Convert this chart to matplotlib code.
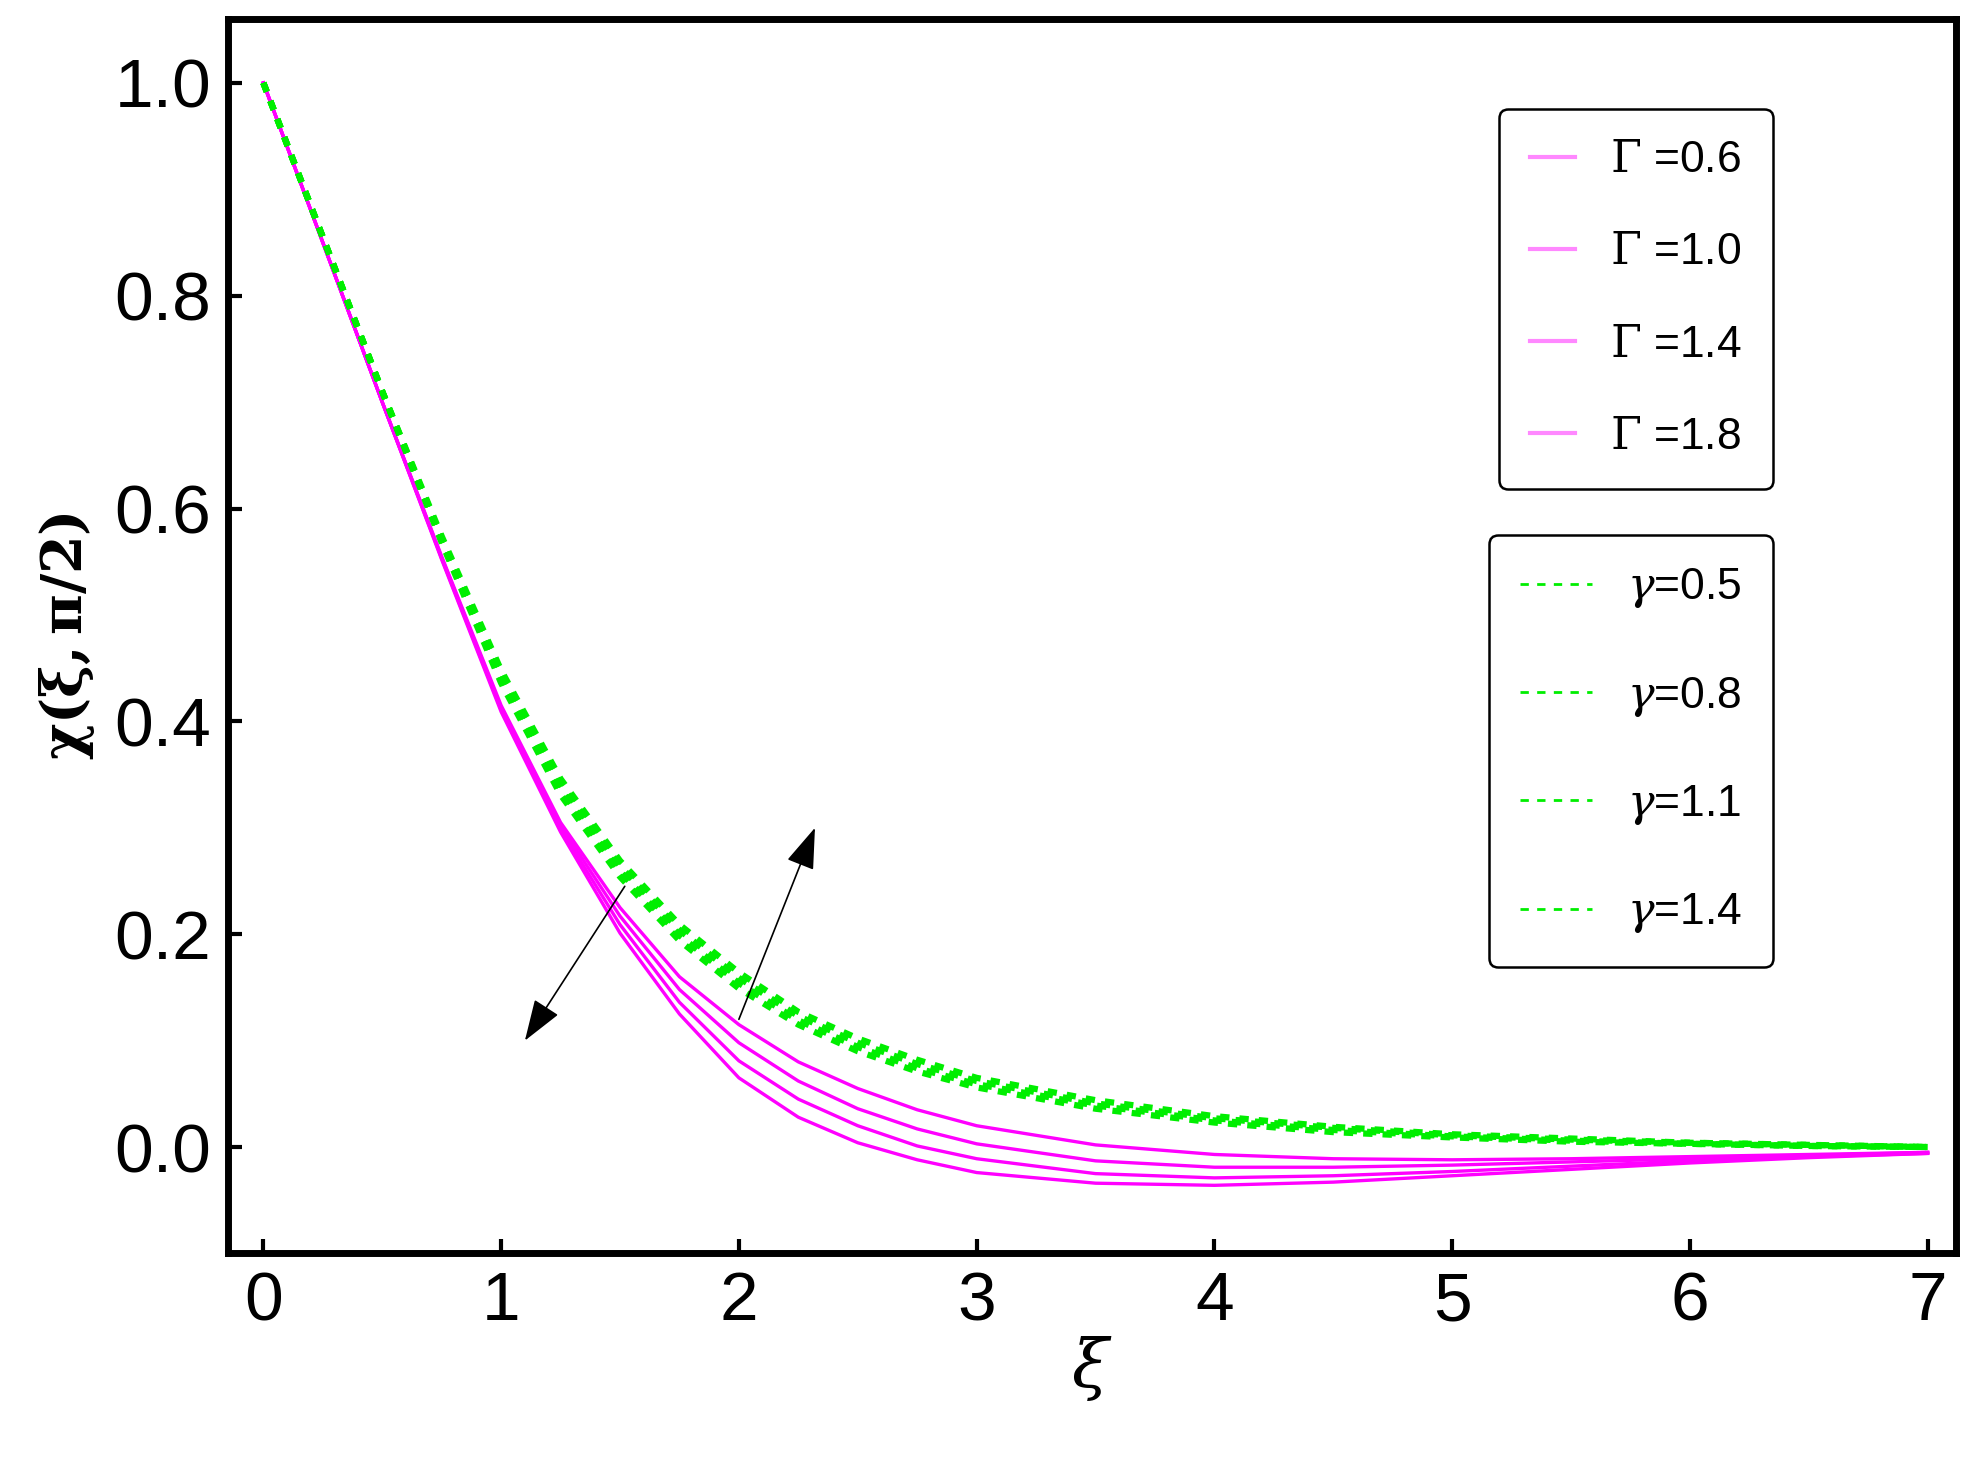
import matplotlib.pyplot as plt
from matplotlib.lines import Line2D

plt.rcParams['font.family'] = ['Liberation Sans', 'DejaVu Sans']
plt.rcParams['mathtext.fontset'] = 'dejavuserif'

xi = [0, 0.25, 0.5, 0.75, 1, 1.25, 1.5, 1.75, 2, 2.25, 2.5, 2.75, 3, 3.5, 4, 4.5, 5, 5.5, 6, 6.5, 7]

gamma_big_labels = ['0.6', '1.0', '1.4', '1.8']
chi_Gamma = [
    [1, .85, .70, .555, .415, .305, .225, .160, .115, .080, .055, .035, .020, .002, -.007, -.011, -.012, -.011, -.009, -.007, -.005],
    [1, .85, .70, .554, .413, .302, .217, .148, .098, .062, .036, .017, .003, -.013, -.019, -.019, -.017, -.014, -.011, -.008, -.005],
    [1, .85, .70, .553, .411, .299, .209, .136, .081, .045, .020, .001, -.011, -.025, -.029, -.027, -.023, -.018, -.013, -.009, -.006],
    [1, .85, .70, .552, .409, .296, .201, .125, .065, .028, .004, -.012, -.024, -.034, -.036, -.033, -.027, -.021, -.015, -.010, -.006],
]

gamma_small_labels = ['0.5', '0.8', '1.1', '1.4']
chi_gamma = [
    [1, .855, .71, .568, .436, .331, .254, .194, .149, .115, .090, .071, .056, .036, .023, .014, .009, .005, .003, .001, 0],
    [1, .855, .71, .570, .440, .336, .259, .199, .154, .119, .094, .074, .059, .039, .025, .016, .010, .006, .003, .001, 0],
    [1, .855, .71, .572, .444, .341, .264, .204, .159, .123, .098, .078, .062, .041, .027, .018, .011, .007, .004, .002, 0],
    [1, .855, .71, .574, .448, .346, .269, .209, .164, .127, .102, .082, .065, .044, .029, .019, .012, .008, .004, .002, 0],
]

fig = plt.figure(figsize=(19.8, 14.66), dpi=100)
ax = fig.add_axes([0.115, 0.145, 0.873, 0.842])

for y in chi_Gamma:
    ax.plot(xi, y, color='#ff00ff', lw=2.4)
for y in chi_gamma:
    ax.plot(xi, y, color='#00ee00', lw=4.5, dashes=(1.5, 1.6))

arrow = dict(arrowstyle='-|>,head_length=2.6,head_width=0.9', color='black', lw=1.2, shrinkA=0, shrinkB=0)
ax.annotate('', xy=(1.1, 0.10), xytext=(1.52, 0.245), arrowprops=arrow)
ax.annotate('', xy=(2.32, 0.30), xytext=(2.0, 0.12), arrowprops=arrow)

ax.set_xlim(-0.15, 7.12)
ax.set_ylim(-0.1, 1.06)
ax.set_xticks(range(8))
ax.set_yticks([0, 0.2, 0.4, 0.6, 0.8, 1.0])
ax.set_yticklabels(['0.0', '0.2', '0.4', '0.6', '0.8', '1.0'])
ax.tick_params(labelsize=50, direction='in', width=3, length=10, pad=12)
for s in ax.spines.values():
    s.set_linewidth(5)
ax.set_xlabel(r'$\xi$', fontsize=48, labelpad=0)
ax.set_ylabel(r'$\mathbf{\chi(\xi,\pi/2)}$', fontsize=40, labelpad=12)

h1 = [Line2D([], [], color='#ff88ff', lw=3) for _ in gamma_big_labels]
leg1 = ax.legend(h1, [r'$\Gamma$ =' + v for v in gamma_big_labels], loc='upper right',
                 bbox_to_anchor=(0.907, 0.945), fontsize=32, labelspacing=1.15, handlelength=1.0,
                 fancybox=True, edgecolor='black', framealpha=1, borderpad=0.7)
leg1.get_frame().set_linewidth(1.8)
ax.add_artist(leg1)
h2 = [Line2D([], [], color='#00ee00', lw=2, dashes=(3, 3)) for _ in gamma_small_labels]
leg2 = ax.legend(h2, [r'$\gamma$=' + v for v in gamma_small_labels], loc='upper right',
                 bbox_to_anchor=(0.907, 0.6), fontsize=32, labelspacing=1.45, handlelength=1.6,
                 fancybox=True, edgecolor='black', framealpha=1, borderpad=0.7)
leg2.get_frame().set_linewidth(1.8)

fig.savefig('out.png', dpi=100)
